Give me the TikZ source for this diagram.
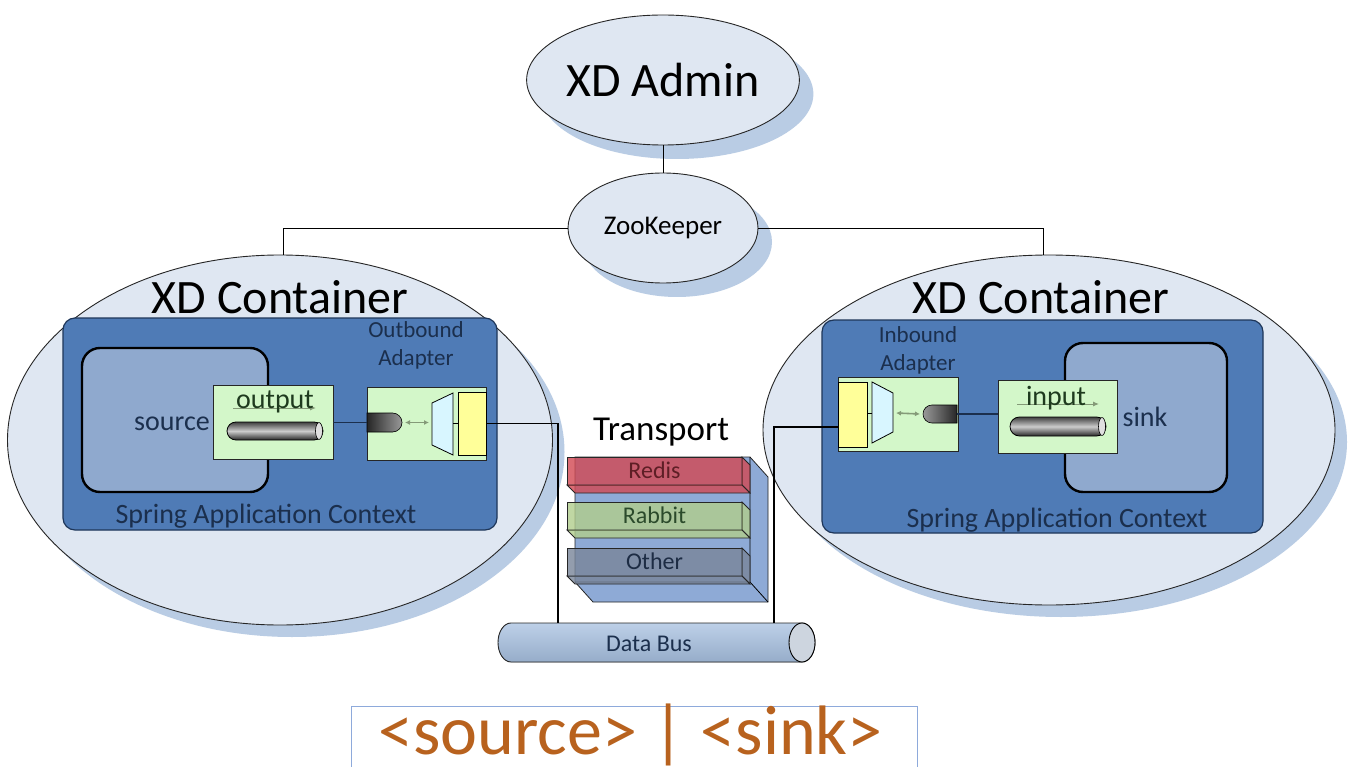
\documentclass[tikz,border=0pt]{standalone}
\usepackage{fontspec}
\setmainfont{Carlito}
\usepackage{xcolor}
\usepackage{tikz}
\usetikzlibrary{positioning,shapes.geometric,shapes.misc,shadows,arrows.meta}

\definecolor{ellfill}{HTML}{DFE7F2}
\definecolor{shadc}{HTML}{B9CCE4}
\definecolor{ctxfill}{HTML}{4F7BB6}
\definecolor{ctxline}{HTML}{1E3659}
\definecolor{modfill}{HTML}{8FA9CE}
\definecolor{grfill}{HTML}{D3F7C9}
\definecolor{yefill}{HTML}{FFFF99}
\definecolor{cyfill}{HTML}{D8F6FF}
\definecolor{navy}{HTML}{1B2F4D}
\definecolor{trpfill}{HTML}{8EAAD6}
\definecolor{redisc}{HTML}{D24852}
\definecolor{rabbitc}{HTML}{B1CD8C}
\definecolor{otherc}{HTML}{798599}
\definecolor{arrc}{HTML}{849A78}
\definecolor{orangec}{HTML}{B8621E}
\definecolor{boxline}{HTML}{8EAADB}
\definecolor{busfill}{HTML}{A7C0E0}
\definecolor{modtext}{HTML}{1E3A1E}

\newcommand{\fsz}[1]{\fontsize{#1}{#1}\selectfont}

\begin{document}
\begin{tikzpicture}[x=1pt, y=-1pt,
                    every node/.append style = {inner sep=0pt, outer sep=0pt},
                    bubble/.style = {ellipse, draw=black!85, line width=0.9pt, fill=ellfill},
                    shad/.style = {drop shadow={fill=shadc, opacity=1, shadow xshift=#1, shadow yshift=-#1}},
                    ctx/.style = {rectangle, rounded corners=12pt, draw=ctxline, line width=1.2pt, fill=ctxfill},
                    module/.style = {rectangle, rounded corners=18pt, draw=black, line width=2.4pt, fill=modfill},
                    grbox/.style = {rectangle, draw=black!85, line width=0.8pt, fill=grfill},
                    yel/.style = {rectangle, draw=black, line width=0.8pt, fill=yefill},
                    pipe/.style = {rounded rectangle, draw=black, line width=0.8pt, top color=black!75, bottom color=black!85, middle color=black!20},
                    stub/.style = {rounded rectangle, draw=black, line width=0.6pt, left color=black!85, right color=black!40},
                    flow/.style = {arrc, line width=1pt, -{Latex[length=6pt,width=5pt]}},
                    dbl/.style = {arrc, line width=1.6pt, {Latex[length=5pt,width=5pt]}-{Latex[length=5pt,width=5pt]}},
                    thinlink/.style = {black, line width=0.9pt},
                    link/.style = {black, line width=1.8pt},
                    ctxtext/.style = {text=navy, font=\fsz{28}},
                    slab/.style = {draw=black!85, line width=0.8pt, fill opacity=0.8}]
    \path[use as bounding box, fill=white] (0,0) rectangle (1349,767);

    \node[bubble, shad=14pt, minimum width=216pt, minimum height=130pt, font=\fsz{48}] (nadmin) at (663,80) {XD Admin};
    \node[bubble, shad=14pt, minimum width=190pt, minimum height=110pt, font=\fsz{27}] (nzk) at (663,228) {ZooKeeper};
    \draw[thinlink] (nadmin.south) -- (nzk.north);

    \node[bubble, shad=12pt, minimum width=545pt, minimum height=370pt] (ncontl) at (280,440) {};
    \node[bubble, shad=12pt, minimum width=572pt, minimum height=350pt] (ncontr) at (1049,430) {};
    \draw[thinlink] (nzk.west) -| ([xshift=3pt]ncontl.north);
    \draw[thinlink] (nzk.east) -| ([xshift=-6pt]ncontr.north);
    \node[font=\fsz{48}, anchor=base] (ntitl) at (280,313) {XD Container};
    \node[font=\fsz{48}, anchor=base] (ntitr) at (1041,313) {XD Container};

    \node[ctx, minimum width=434pt, minimum height=212pt] (nctxl) at (280,424) {};
    \node[ctx, minimum width=441pt, minimum height=213pt] (nctxr) at (1042.5,426.5) {};
    \node[ctxtext, anchor=base] (nlblctxl) at (266,523) {Spring Application Context};
    \node[ctxtext, anchor=base] (nlblctxr) at (1057,527) {Spring Application Context};

    \node[module, minimum width=186pt, minimum height=144pt] (nsource) at (175,420) {};
    \node[ctxtext, anchor=base] (nlblsource) at (172,430) {source};
    \node[module, minimum width=162pt, minimum height=149pt] (nsink) at (1146,417.5) {};
    \node[ctxtext, anchor=base] (nlblsink) at (1145,426) {sink};

    \node[grbox, minimum width=120pt, minimum height=74pt] (nout) at (273,422) {};
    \draw[flow] (233,408) -- (316,408);
    \node[font=\fsz{28}, text=modtext, anchor=base] (nlblout) at (275,408) {output};
    \node[pipe, minimum width=96pt, minimum height=18pt] (npipeo) at (275,431) {};
    \draw[line width=0.6pt, fill=black!12] ([xshift=-4pt]npipeo.east) ellipse [x radius=3.5, y radius=8.5];

    \node[grbox, minimum width=119pt, minimum height=73pt] (nin) at (1057.5,416.5) {};
    \draw[flow] (1017,404) -- (1099,404);
    \node[font=\fsz{28}, text=modtext, anchor=base] (nlblin) at (1056,405) {input};
    \node[pipe, minimum width=96pt, minimum height=19pt] (npipei) at (1058,426.5) {};
    \draw[line width=0.6pt, fill=black!12] ([xshift=-4pt]npipei.east) ellipse [x radius=3.5, y radius=9];

    \node[ctxtext, font=\fontsize{23}{28}\selectfont, align=center, anchor=base] (nlblobd) at (416,365) {Outbound\\Adapter};
    \node[grbox, minimum width=119pt, minimum height=73pt] (nobd) at (426.5,423.5) {};
    \node[stub, rounded rectangle west arc=none, minimum width=35pt, minimum height=19pt] (nstubo) at (384.5,422.5) {};
    \coordinate (ntrapo) at (453,423);
    \draw[line width=0.8pt, fill=cyfill] (432,403) -- (453,393) -- (453,455) -- (432,445) -- cycle;
    \draw[dbl] ([xshift=3pt]nstubo.east) -- (429,422.5);
    \node[yel, minimum width=28pt, minimum height=63pt] (nyelo) at (472,423.5) {};
    \draw[line width=0.8pt] (ntrapo) -- (ntrapo -| nyelo.west);
    \draw[link, line width=1.2pt, navy] (nout.east |- nstubo) -- (nstubo.west);

    \node[ctxtext, font=\fontsize{23}{28}\selectfont, align=center, anchor=base] (nlblibd) at (918,370) {Inbound\\Adapter};
    \node[grbox, minimum width=120pt, minimum height=74pt] (nibd) at (898,414) {};
    \node[stub, rounded rectangle east arc=none, minimum width=34pt, minimum height=18pt, left color=black!40, right color=black!85] (nstubi) at (940,414) {};
    \coordinate (ntrapi) at (872,413);
    \draw[line width=0.8pt, fill=cyfill] (872,382) -- (893,393) -- (893,432) -- (872,443) -- cycle;
    \draw[dbl] (896,413) -- ([xshift=-3pt]nstubi.west);
    \node[yel, minimum width=29pt, minimum height=65pt] (nyeli) at (852.5,414.5) {};
    \draw[line width=0.8pt] (ntrapi) -- (ntrapi -| nyeli.east);
    \draw[link, line width=1.2pt, navy] (nstubi.east) -- (nstubi.east -| nin.west);

    \node[font=\fsz{35}, anchor=base] (ntransport) at (661,440) {Transport};
    \filldraw[draw=black!85, line width=0.8pt, fill=trpfill] (575,457) -- (750,457) -- (768,477) -- (768,602) -- (593,602) -- (575,582) -- cycle;
    \draw[line width=0.8pt] (750,457) -- (750,582) -- (575,582) (750,582) -- (768,602);
    \foreach \ny/\nm/\nc/\nt in {457/Redis/redisc/5E1E25,502/Rabbit/rabbitc/2B4A2B,548/Other/otherc/1D2C44}{
        \filldraw[slab, fill=\nc] (567,\ny) rectangle (742,\ny+28);
        \filldraw[slab, fill=\nc] (742,\ny) -- (750,\ny+8) -- (750,\ny+36) -- (742,\ny+28) -- cycle;
        \filldraw[slab, fill=\nc] (567,\ny+28) -- (742,\ny+28) -- (750,\ny+36) -- (575,\ny+36) -- cycle;
        \definecolor{slabtext}{HTML}{\nt}
        \node[font=\fsz{24}, text=slabtext, anchor=base] (nslab\nm) at (654.5,\ny+21) {\nm};
    }

    \filldraw[draw=black!85, line width=0.9pt, top color=busfill!75!white, bottom color=busfill!90!black] (511,623) -- (802,623) arc[start angle=-90, end angle=90, x radius=13, y radius=19.5] -- (511,662) arc[start angle=90, end angle=270, x radius=13, y radius=19.5] -- cycle;
    \draw[line width=0.9pt, fill=black!8!ellfill] (802,642.5) ellipse [x radius=13, y radius=19.5];
    \node[ctxtext, font=\fsz{24}, anchor=base] (nbus) at (649,651) {Data Bus};
    \coordinate (nbusl) at (558,623);
    \coordinate (nbusr) at (774,623);
    \draw[link] (nyelo.east) -| (nbusl);
    \draw[link] ([yshift=-12.5pt]nyeli.west) -| (nbusr);

    \node[draw=boxline, line width=1pt, minimum width=566pt, minimum height=66pt] (nexpr) at (634,739) {};
    \node[font=\fsz{70}, text=orangec, anchor=base] (nexprtext) at (630.5,754) {<source> | <sink>};
\end{tikzpicture}
\end{document}
